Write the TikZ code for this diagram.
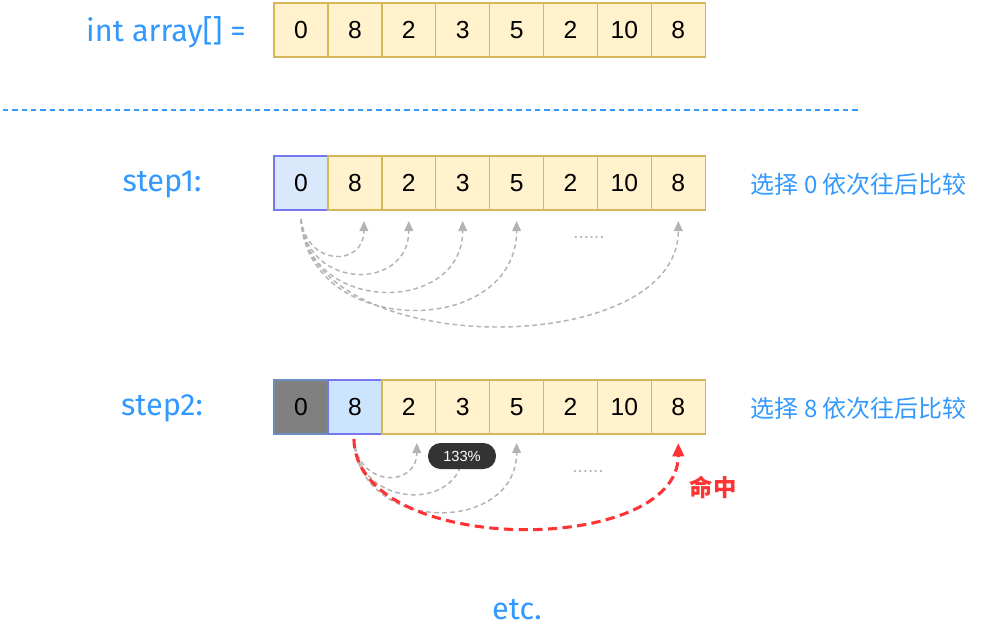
\documentclass[tikz,border=0pt]{standalone}
\usepackage{fontspec}
\setmainfont{Liberation Sans}
\newfontfamily\cjk{Noto Sans CJK SC}
\newfontfamily\lblfont{Fira Sans}
\usetikzlibrary{arrows.meta,calc}
\definecolor{cellfill}{HTML}{FFF2CC}
\definecolor{cellline}{HTML}{D6B656}
\definecolor{selfill}{HTML}{DAE8FC}
\definecolor{selline}{HTML}{7777EE}
\definecolor{seltwofill}{HTML}{CCE5FF}
\definecolor{donefill}{HTML}{808080}
\definecolor{doneline}{HTML}{6C8EBF}
\definecolor{labelblue}{HTML}{3399FF}
\definecolor{arrowgray}{HTML}{B3B3B3}
\definecolor{hitred}{HTML}{FF3333}
\begin{document}
\begin{tikzpicture}[x=0.75pt,y=-0.75pt,
  cell/.style={draw=cellline,fill=cellfill,line width=1.1pt,minimum width=40.5pt,minimum height=40.5pt,
    inner sep=0pt,outer sep=0pt,anchor=north west,font=\fontsize{18.5}{20}\selectfont},
  selcell/.style={cell,draw=selline,fill=selfill},
  seltwocell/.style={cell,draw=selline,fill=seltwofill},
  donecell/.style={cell,draw=doneline,fill=donefill},
  bluelabel/.style={text=labelblue,inner sep=1pt,font=\lblfont\fontsize{23}{25}\selectfont},
  cjklabel/.style={text=labelblue,font=\cjk\fontsize{18}{20}\selectfont,anchor=west},
  grayarrow/.style={draw=arrowgray,line width=1.1pt,dash pattern=on 3.5pt off 2.5pt,
    -{Triangle[length=7.5pt,width=6.5pt,fill=arrowgray]}},
  redarrow/.style={draw=hitred,line width=2.3pt,dash pattern=on 7pt off 4pt,
    -{Triangle[length=10pt,width=8.5pt,fill=hitred]}},
  dots/.style={text=arrowgray,font=\fontsize{14}{16}\selectfont}
]
\useasboundingbox (0,0) rectangle (987,629);
\fill[white] (0,0) rectangle (987,629);

% top array
\node[bluelabel] (lblarr) at (166,32) {int array[] =};
\foreach \v [count=\i from 0] in {0,8,2,3,5,2,10,8}
  \node[cell] (t\i) at ({274+53.9*\i},3) {\v};

% separator
\coordinate (sepL) at (3,110);
\coordinate (sepR) at (860,110);
\draw[labelblue,line width=1.1pt,dash pattern=on 4pt off 3pt] (sepL) -- (sepR);

% step 1
\node[bluelabel] (lblone) at (162,185) {step1:};
\node[selcell] (a0) at (274,156) {0};
\foreach \v [count=\i from 1] in {8,2,3,5,2,10,8}
  \node[cell] (a\i) at ({274+53.9*\i},156) {\v};
\node[cjklabel] (descone) at (746,184) {选择 0 依次往后比较};

\coordinate (s1) at ($(a0.south)+(0,9)$);
\coordinate (e1) at ($(a1.south)+(9,11)$);
\coordinate (e2) at ($(a2.south)+(0,11)$);
\coordinate (e3) at ($(a3.south)+(0,11)$);
\coordinate (e4) at ($(a4.south)+(0,11)$);
\coordinate (e7) at ($(a7.south)+(0,11)$);
\draw[grayarrow] (s1) .. controls ($(s1)+(6,48)$) and ($(e1)+(0,46)$) .. (e1);
\draw[grayarrow] (s1) .. controls ($(s1)+(6,72)$) and ($(e2)+(0,70)$) .. (e2);
\draw[grayarrow] (s1) .. controls ($(s1)+(6,96)$) and ($(e3)+(0,94)$) .. (e3);
\draw[grayarrow] (s1) .. controls ($(s1)+(6,120)$) and ($(e4)+(0,118)$) .. (e4);
\draw[grayarrow] (s1) .. controls ($(s1)+(6,142)$) and ($(e7)+(0,140)$) .. (e7);
\node[dots] (dotsone) at (589,237) {......};

% step 2
\node[bluelabel] (lbltwo) at (162,408) {step2:};
\node[donecell] (b0) at (274,380) {0};
\node[seltwocell] (b1) at (327.9,380) {8};
\foreach \v [count=\i from 2] in {2,3,5,2,10,8}
  \node[cell] (b\i) at ({274+53.9*\i},380) {\v};
\node[cjklabel] (desctwo) at (746,408) {选择 8 依次往后比较};

\coordinate (s2) at ($(b1.south)+(-1,5)$);
\coordinate (f2) at ($(b2.south)+(8,9)$);
\coordinate (f3) at ($(b3.south)+(0,9)$);
\coordinate (f4) at ($(b4.south)+(0,9)$);
\coordinate (f7) at ($(b7.south)+(0,9)$);
\draw[grayarrow] (s2) .. controls ($(s2)+(4,49)$) and ($(f2)+(0,45)$) .. (f2);
\draw[grayarrow] (s2) .. controls ($(s2)+(4,72)$) and ($(f3)+(0,68)$) .. (f3);
\draw[grayarrow] (s2) .. controls ($(s2)+(4,96)$) and ($(f4)+(0,92)$) .. (f4);
\draw[redarrow] (s2) .. controls ($(s2)+(2,118)$) and ($(f7)+(0,114)$) .. (f7);
\node[dots] (dotstwo) at (588,471) {......};
\node[text=hitred,font=\cjk\bfseries\fontsize{17.5}{19}\selectfont] (hit) at (713,487) {命中};

\node[fill=black!80,text=white,rounded corners=9.5pt,minimum width=51pt,minimum height=19.5pt,
  inner sep=0pt,font=\fontsize{11}{12}\selectfont] (badge) at (462,456) {133\%};

\node[bluelabel] (etc) at (517,610) {etc.};
\end{tikzpicture}
\end{document}
